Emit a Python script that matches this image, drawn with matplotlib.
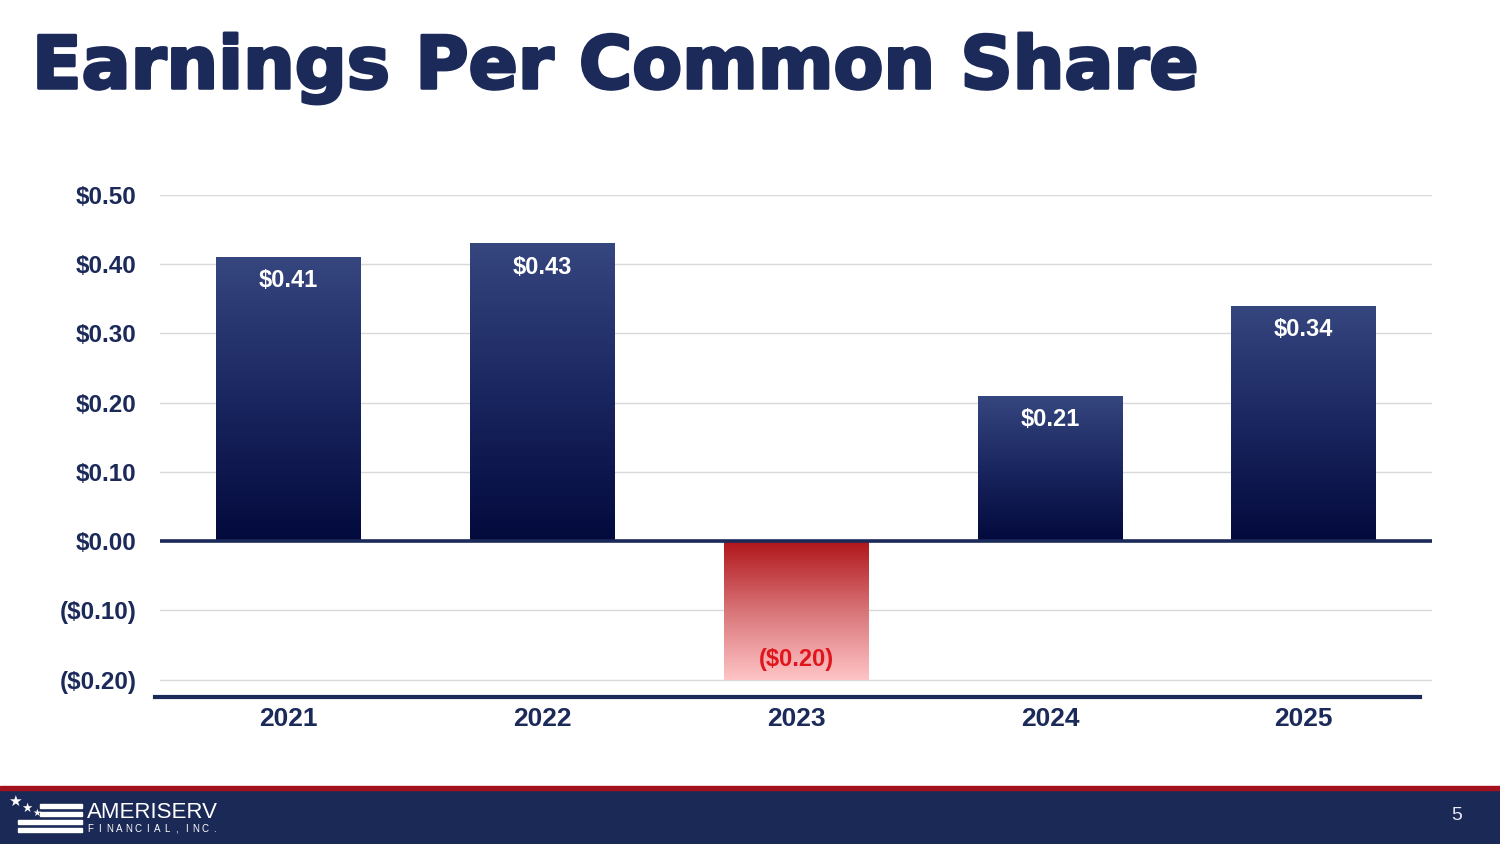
import numpy as np
import matplotlib
matplotlib.use("Agg")
import matplotlib.pyplot as plt
from matplotlib.colors import LinearSegmentedColormap
from matplotlib.patches import Rectangle
from matplotlib.lines import Line2D
import matplotlib.patheffects as pe

plt.rcParams['font.family'] = ['Liberation Sans', 'DejaVu Sans']

# data
years = ["2021", "2022", "2023", "2024", "2025"]
eps = [0.41, 0.43, -0.20, 0.21, 0.34]
eps_labels = ["$0.41", "$0.43", "($0.20)", "$0.21", "$0.34"]
yticks = [-0.20, -0.10, 0.00, 0.10, 0.20, 0.30, 0.40, 0.50]
ytick_labels = ["($0.20)", "($0.10)", "$0.00", "$0.10", "$0.20", "$0.30", "$0.40", "$0.50"]

navy = "#1c2a5a"
blue_cm = LinearSegmentedColormap.from_list("blu", ["#030a3c", "#1a2660", "#36467f"])
red_cm = LinearSegmentedColormap.from_list("red", ["#ffc4c6", "#d87478", "#b0161a"])

fig = plt.figure(figsize=(15, 8.44), dpi=100)
ax = fig.add_axes([160/1500, 1-697/844, 1272/1500, (697-195)/844])

x = np.arange(len(years))
bars = ax.bar(x, eps, width=0.57, color="none", zorder=3)

# gradient fill clipped to each bar
grad = np.linspace(0, 1, 256).reshape(-1, 1)
for b, v in zip(bars, eps):
    x0, y0 = b.get_x(), b.get_y()
    w, h = b.get_width(), b.get_height()
    if v >= 0:
        im = ax.imshow(grad, cmap=blue_cm, aspect="auto", origin="lower",
                       extent=[x0, x0 + w, y0, y0 + h], zorder=3)
    else:
        im = ax.imshow(grad, cmap=red_cm, aspect="auto", origin="lower",
                       extent=[x0, x0 + w, y0 + h, y0], zorder=3)
    im.set_clip_path(b)

for xi, v, lab in zip(x, eps, eps_labels):
    if v >= 0:
        ax.annotate(lab, (xi, v), xytext=(0, -17), textcoords="offset points",
                    ha="center", va="center", color="white", fontsize=17,
                    fontweight="bold", zorder=5)
    else:
        ax.annotate(lab, (xi, v), xytext=(0, 14.5), textcoords="offset points",
                    ha="center", va="center", color="#e0161c", fontsize=17,
                    fontweight="bold", zorder=5)

ax.set_xlim(-0.505, 4.505)
ax.set_ylim(-0.225, 0.5)
ax.set_yticks(yticks)
ax.set_yticklabels(ytick_labels)
ax.set_xticks(x)
ax.set_xticklabels(years)
ax.grid(axis="y", color="#d9d9d9", lw=1, zorder=0)
ax.axhline(0, color=navy, lw=2.6, zorder=4)
for s in ax.spines.values():
    s.set_visible(False)
ax.tick_params(axis="both", length=0)
ax.tick_params(axis="y", pad=17, labelsize=17.5, labelcolor=navy)
ax.tick_params(axis="x", pad=7, labelsize=19, labelcolor=navy)
for t in ax.get_yticklabels() + ax.get_xticklabels():
    t.set_fontweight("bold")

# bottom axis line
fig.add_artist(Line2D([155/1500, 1420/1500], [1-697/844]*2, color=navy, lw=3))

# title
fig.text(32/1500, 1-68/844, "Earnings Per Common Share", fontsize=52.3,
         fontweight="bold", color=navy, va="center", ha="left",
         family="DejaVu Sans",
         path_effects=[pe.withStroke(linewidth=2.2, foreground=navy)])

# footer band
fig.add_artist(Rectangle((0, 0), 1, 54/844, transform=fig.transFigure,
                         color="#1b2956", zorder=1))
fig.add_artist(Rectangle((0, 54/844), 1, 4/844, transform=fig.transFigure,
                         color="#a3101e", zorder=1))

# logo
for yy, xs in [(805, 40), (813, 40), (821, 18), (829, 18)]:
    fig.add_artist(Rectangle((xs/1500, 1-(yy+2.5)/844), (82-xs)/1500, 4/844,
                             transform=fig.transFigure, color="white", zorder=2))
for sx, sy, sz in [(15, 801, 11), (27, 808, 9), (37, 813, 7)]:
    fig.text(sx/1500, 1-sy/844, "\u2605", color="white", fontsize=sz,
             ha="center", va="center", family="DejaVu Sans")
fig.text(87/1500, 1-812/844, "AMERISERV", color="white", fontsize=16,
         ha="left", va="center")
sub = "FINANCIAL,INC."
for i, ch in enumerate(sub):
    fig.text((90 + i * 9.6)/1500, 1-829/844, ch, color="white",
             fontsize=7, ha="center", va="center")
fig.text(1457/1500, 1-816/844, "5", color="#e8e8f0", fontsize=14,
         ha="center", va="center")

fig.savefig("out.png", dpi=100)
